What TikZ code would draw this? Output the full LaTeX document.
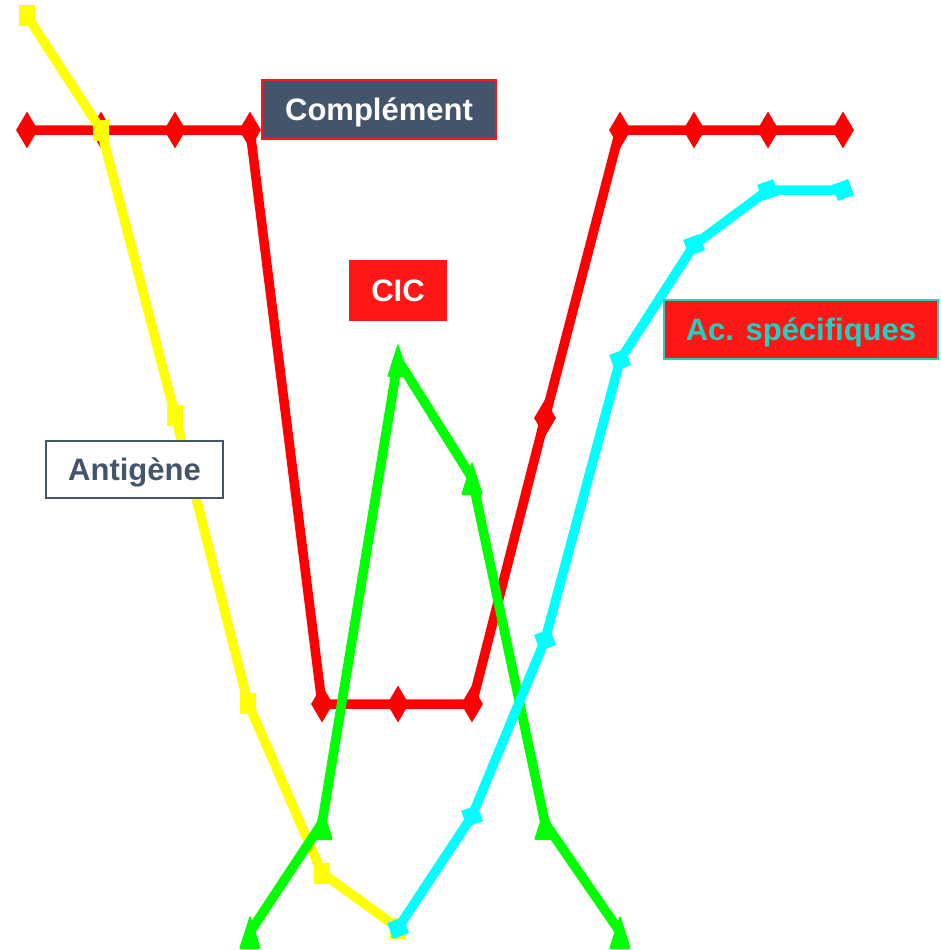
\documentclass[tikz,border=0pt]{standalone}
\usepackage{fontspec}
\setmainfont{Liberation Sans}
\definecolor{cplred}{HTML}{FF0000}
\definecolor{agyellow}{HTML}{FFFF00}
\definecolor{cicgreen}{HTML}{00FF00}
\definecolor{accyan}{HTML}{00FFFF}
\definecolor{slate}{HTML}{44546A}
\definecolor{tagred}{HTML}{FF1616}
\definecolor{tagteal}{HTML}{1ED2C2}
\usetikzlibrary{shapes.geometric}

\begin{document}
\begin{tikzpicture}[
  x=1pt, y=-1pt,
  font=\fontsize{31}{36}\selectfont\bfseries,
  serie/.style={line width=9.5pt, line join=round},
  rmark/.style={diamond, fill=cplred, minimum width=22pt, minimum height=37pt, inner sep=0pt},
  ymark/.style={rectangle, fill=agyellow, minimum width=16pt, minimum height=21pt, inner sep=0pt},
  cmark/.style={rectangle, fill=accyan, minimum size=17pt, inner sep=0pt, rotate=20},
  gmark/.pic={\fill[cicgreen, rounded corners=2pt] (-11pt,-17pt) -- (0pt,17pt) -- (11pt,-17pt) -- cycle;},
  tag/.style={line width=2pt, inner sep=0pt, minimum height=59pt, text height=22pt, text depth=0pt},
]
  \useasboundingbox (0,0) rectangle (940,950);

  % Complement
  \foreach \n/\x/\y in {1/27/130, 2/101/130, 3/175/130, 4/250/130, 5/322/704, 6/398/704,
                        7/472/704, 8/545/418, 9/620/130, 10/694/130, 11/768/130, 12/843/130}
    \coordinate (r\n) at (\x,\y);
  \draw[serie, cplred] (r1) -- (r2) -- (r3) -- (r4) -- (r5) -- (r6) -- (r7) -- (r8) -- (r9) -- (r10) -- (r11) -- (r12);
  \foreach \n in {1,...,12}
    \node[rmark] at (r\n) {};

  % Antigene
  \foreach \n/\x/\y in {1/27/16, 2/101/130, 3/175/415, 4/248/703, 5/322/873, 6/398/928}
    \coordinate (y\n) at (\x,\y);
  \draw[serie, agyellow] (y1) -- (y2) -- (y3) -- (y4) -- (y5) -- (y6);
  \foreach \n in {1,...,6}
    \node[ymark] at (y\n) {};

  % CIC
  \foreach \n/\x/\y in {1/250/932, 2/322/823, 3/398/360, 4/472/478, 5/545/823, 6/620/932}
    \coordinate (g\n) at (\x,\y);
  \draw[serie, cicgreen] (g1) -- (g2) -- (g3) -- (g4) -- (g5) -- (g6);
  \foreach \n in {1,...,6}
    \pic at (g\n) {gmark};

  % Ac. specifiques
  \foreach \n/\x/\y in {1/398/928, 2/472/816, 3/545/640, 4/620/360, 5/694/245, 6/768/190, 7/843/190}
    \coordinate (c\n) at (\x,\y);
  \draw[serie, accyan] (c1) -- (c2) -- (c3) -- (c4) -- (c5) -- (c6) -- (c7);
  \foreach \n in {1,...,7}
    \node[cmark] at (c\n) {};

  % legends
  \node[tag, draw=tagred, fill=slate, text=white, minimum width=234pt] (cpl) at (379,109.5) {Complément};
  \node[tag, draw=tagred, fill=tagred, text=white, minimum width=96pt] (cic) at (398,290.5) {CIC};
  \node[tag, draw=tagteal, fill=tagred, text=tagteal, minimum width=274pt] (acs) at (801,329.5) {Ac. spécifiques};
  \node[tag, draw=slate, fill=white, text=slate, minimum width=177pt, minimum height=57pt] (ag) at (134.5,469.5) {Antigène};
\end{tikzpicture}
\end{document}
